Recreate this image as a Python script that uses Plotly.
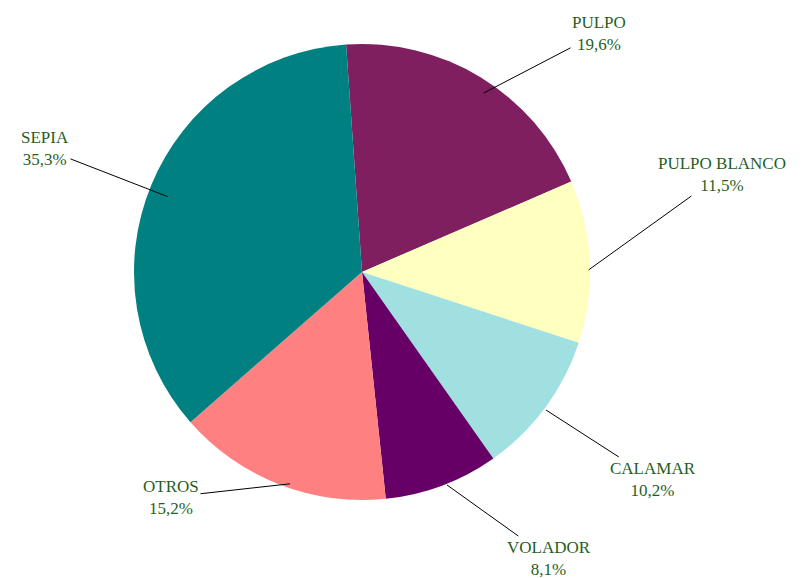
import math
import plotly.graph_objects as go

labels = ["PULPO", "PULPO BLANCO", "CALAMAR", "VOLADOR", "OTROS", "SEPIA"]
values = [19.6, 11.5, 10.2, 8.1, 15.2, 35.3]
pct_text = ["19,6%", "11,5%", "10,2%", "8,1%", "15,2%", "35,3%"]
colors = ["#7F1F5F", "#FFFFC0", "#A0E0E0", "#660066", "#FF8080", "#008080"]

# label text centres (pixels) as laid out in the reference
label_px = [(591, 25), (714, 166), (645, 471), (541, 550), (163, 489), (37, 141)]

W, H = 805, 578
cx, cy, r = 362, 272, 228
# plotly draws the pie about 8px right/down of the nominal domain centre
off = 8
rotation = -4

fig = go.Figure(go.Pie(
    labels=labels,
    values=values,
    text=pct_text,
    textinfo="none",
    textposition="none",
    marker=dict(colors=colors, line=dict(color="#FFFFFF", width=0)),
    sort=False,
    direction="clockwise",
    rotation=rotation,
    showlegend=False,
    hoverinfo="label+text",
    domain=dict(x=[(cx - off - r) / W, (cx - off + r) / W],
                y=[1 - (cy - off + r) / H, 1 - (cy - off - r) / H]),
))

total = sum(values)
cum = 0.0
for lab, v, pt, (lx, ly) in zip(labels, values, pct_text, label_px):
    mid = rotation + 360.0 * (cum + v / 2.0) / total
    cum += v
    a = math.radians(mid)
    tx = cx + 0.96 * r * math.sin(a)
    ty = cy - 0.96 * r * math.cos(a)
    fig.add_annotation(
        x=tx / W, y=1 - ty / H, xref="paper", yref="paper",
        ax=lx - tx, ay=ly - ty, axref="pixel", ayref="pixel",
        text=f"{lab}<br>{pt}",
        showarrow=True, arrowhead=0, arrowwidth=1, arrowcolor="#000000",
        font=dict(family="Liberation Serif", size=17, color="#1F5F1F"),
        bgcolor="rgba(0,0,0,0)",
    )

fig.update_layout(
    width=W, height=H,
    margin=dict(l=0, r=0, t=0, b=0),
    paper_bgcolor="white",
    plot_bgcolor="white",
)

fig.write_html("out.html")
